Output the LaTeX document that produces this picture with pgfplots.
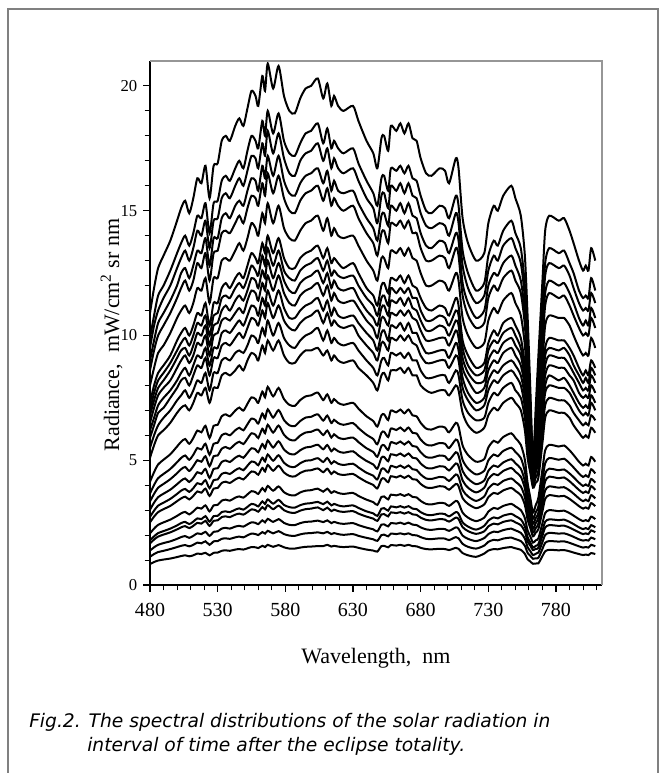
\documentclass[border=0pt]{standalone}
\usepackage{fontspec}
\setmainfont{Liberation Serif}
\newfontfamily\capfont{DejaVu Sans}
\usepackage{pgfplots}
\pgfplotsset{compat=1.18}
\usepackage{pgfplotstable}
\definecolor{framegray}{RGB}{128,128,128}
\definecolor{boxgray}{RGB}{150,150,150}

\pgfplotstableread{
lam U1 U2 U3 U4 U5 U6 U7 U8 U9 U10 U11 U12 U13 U14 L1 L2 L3 L4 L5 L6 L7 L8 L9 L10 L11 L12
480 10.9 9.9 9.5 9.0 8.6 8.0 7.3 7.0 6.8 6.5 6.2 5.9 5.5 5.1 4.14 3.67 3.35 3.02 2.73 2.51 2.07 1.79 1.67 1.38 1.13 0.84
483 11.9 10.8 10.4 9.8 9.4 8.7 8.0 7.7 7.4 7.1 6.7 6.4 6.0 5.6 4.52 4.01 3.65 3.30 2.98 2.74 2.26 1.95 1.82 1.51 1.24 0.92
486 12.7 11.6 11.0 10.5 10.0 9.3 8.5 8.2 7.9 7.6 7.2 6.9 6.4 6.0 4.83 4.28 3.90 3.52 3.18 2.92 2.41 2.08 1.94 1.61 1.32 0.98
490 13.2 12.0 11.5 10.9 10.4 9.6 8.8 8.5 8.2 7.9 7.5 7.1 6.7 6.2 5.02 4.45 4.05 3.66 3.30 3.04 2.51 2.16 2.02 1.68 1.37 1.02
495 13.8 12.6 12.0 11.4 10.9 10.1 9.2 8.9 8.6 8.2 7.8 7.5 7.0 6.5 5.24 4.65 4.24 3.82 3.45 3.17 2.62 2.26 2.11 1.75 1.44 1.06
500 14.6 13.3 12.7 12.0 11.5 10.7 9.8 9.4 9.1 8.7 8.2 7.9 7.4 6.9 5.55 4.92 4.48 4.04 3.65 3.36 2.77 2.39 2.23 1.85 1.52 1.12
503 15.1 13.7 13.1 12.5 11.9 11.0 10.1 9.7 9.4 9.0 8.5 8.2 7.6 7.1 5.74 5.09 4.64 4.18 3.78 3.47 2.87 2.48 2.31 1.92 1.57 1.16
506 15.4 14.0 13.4 12.7 12.2 11.2 10.3 9.9 9.5 9.2 8.7 8.3 7.8 7.2 5.85 5.19 4.73 4.27 3.85 3.54 2.93 2.53 2.36 1.96 1.60 1.19
509 14.9 13.6 13.0 12.3 11.8 10.9 10.0 9.6 9.2 8.9 8.4 8.0 7.5 7.0 5.66 5.02 4.57 4.13 3.73 3.43 2.83 2.44 2.28 1.89 1.55 1.15
512 15.5 14.1 13.5 12.8 12.2 11.3 10.4 10.0 9.6 9.2 8.8 8.4 7.8 7.3 5.89 5.22 4.76 4.29 3.88 3.57 2.95 2.54 2.37 1.97 1.61 1.19
515 16.3 14.8 14.2 13.4 12.9 11.9 10.9 10.5 10.1 9.7 9.2 8.8 8.2 7.7 6.19 5.49 5.00 4.52 4.08 3.75 3.10 2.67 2.49 2.07 1.70 1.26
518 16.1 14.7 14.0 13.3 12.7 11.8 10.8 10.4 10.0 9.6 9.1 8.7 8.1 7.6 6.12 5.43 4.94 4.46 4.03 3.70 3.06 2.64 2.46 2.04 1.67 1.24
521 16.8 15.3 14.6 13.9 13.3 12.3 11.3 10.8 10.4 10.0 9.5 9.1 8.5 7.9 6.38 5.66 5.16 4.65 4.20 3.86 3.19 2.76 2.57 2.13 1.75 1.29
524 15.5 14.1 13.5 12.8 12.2 11.3 10.4 10.0 9.6 9.2 8.8 8.4 7.8 7.3 5.89 5.22 4.76 4.29 3.88 3.57 2.95 2.54 2.37 1.97 1.61 1.19
527 16.8 15.3 14.6 13.9 13.3 12.3 11.3 10.8 10.4 10.0 9.5 9.1 8.5 7.9 6.38 5.66 5.16 4.65 4.20 3.86 3.19 2.76 2.57 2.13 1.75 1.29
530 16.9 15.4 14.7 13.9 13.4 12.3 11.3 10.9 10.5 10.1 9.5 9.1 8.5 7.9 6.42 5.70 5.19 4.68 4.23 3.89 3.21 2.77 2.59 2.15 1.76 1.30
533 17.8 16.2 15.5 14.7 14.1 13.0 11.9 11.5 11.0 10.6 10.1 9.6 9.0 8.4 6.76 6.00 5.46 4.93 4.45 4.09 3.38 2.92 2.72 2.26 1.85 1.37
536 18.0 16.4 15.7 14.9 14.2 13.1 12.1 11.6 11.2 10.7 10.2 9.7 9.1 8.5 6.84 6.07 5.53 4.99 4.50 4.14 3.42 2.95 2.75 2.29 1.87 1.39
539 17.8 16.2 15.5 14.7 14.1 13.0 11.9 11.5 11.0 10.6 10.1 9.6 9.0 8.4 6.76 6.00 5.46 4.93 4.45 4.09 3.38 2.92 2.72 2.26 1.85 1.37
543 18.4 16.7 16.0 15.2 14.5 13.4 12.3 11.9 11.4 10.9 10.4 9.9 9.3 8.6 6.99 6.20 5.65 5.10 4.60 4.23 3.50 3.02 2.82 2.34 1.91 1.42
546 18.7 17.0 16.3 15.4 14.8 13.7 12.5 12.1 11.6 11.1 10.6 10.1 9.4 8.8 7.11 6.30 5.74 5.18 4.68 4.30 3.55 3.07 2.86 2.37 1.94 1.44
549 18.4 16.7 16.0 15.2 14.5 13.4 12.3 11.9 11.4 10.9 10.4 9.9 9.3 8.6 6.99 6.20 5.65 5.10 4.60 4.23 3.50 3.02 2.82 2.34 1.91 1.42
552 19.1 17.4 16.6 15.8 15.1 13.9 12.8 12.3 11.8 11.4 10.8 10.3 9.6 9.0 7.26 6.44 5.86 5.29 4.78 4.39 3.63 3.13 2.92 2.43 1.99 1.47
555 19.8 18.0 17.2 16.3 15.6 14.5 13.3 12.8 12.3 11.8 11.2 10.7 10.0 9.3 7.52 6.67 6.08 5.48 4.95 4.55 3.76 3.25 3.03 2.51 2.06 1.52
558 19.6 17.8 17.1 16.2 15.5 14.3 13.1 12.6 12.2 11.7 11.1 10.6 9.9 9.2 7.45 6.61 6.02 5.43 4.90 4.51 3.72 3.21 3.00 2.49 2.04 1.51
560 19.2 17.5 16.7 15.8 15.2 14.0 12.9 12.4 11.9 11.4 10.8 10.4 9.7 9.0 7.30 6.47 5.89 5.32 4.80 4.42 3.65 3.15 2.94 2.44 2.00 1.48
563 20.4 18.6 17.7 16.8 16.1 14.9 13.7 13.2 12.6 12.1 11.5 11.0 10.3 9.6 7.75 6.87 6.26 5.65 5.10 4.69 3.88 3.35 3.12 2.59 2.12 1.57
565 19.8 18.0 17.2 16.3 15.6 14.5 13.3 12.8 12.3 11.8 11.2 10.7 10.0 9.3 7.52 6.67 6.08 5.48 4.95 4.55 3.76 3.25 3.03 2.51 2.06 1.52
567 20.9 19.0 18.2 17.2 16.5 15.3 14.0 13.5 13.0 12.4 11.8 11.3 10.6 9.8 7.94 7.04 6.42 5.79 5.23 4.81 3.97 3.43 3.20 2.65 2.17 1.61
571 19.9 18.1 17.3 16.4 15.7 14.5 13.3 12.8 12.3 11.8 11.2 10.7 10.0 9.4 7.56 6.71 6.11 5.51 4.98 4.58 3.78 3.26 3.04 2.53 2.07 1.53
575 20.8 18.9 18.1 17.2 16.4 15.2 13.9 13.4 12.9 12.4 11.8 11.2 10.5 9.8 7.90 7.01 6.39 5.76 5.20 4.78 3.95 3.41 3.18 2.64 2.16 1.60
579 19.6 17.8 17.1 16.2 15.5 14.3 13.1 12.6 12.2 11.7 11.1 10.6 9.9 9.2 7.45 6.61 6.02 5.43 4.90 4.51 3.72 3.21 3.00 2.49 2.04 1.51
583 19.0 17.3 16.5 15.7 15.0 13.9 12.7 12.3 11.8 11.3 10.7 10.3 9.6 8.9 7.22 6.40 5.83 5.26 4.75 4.37 3.61 3.12 2.91 2.41 1.98 1.46
587 18.9 17.2 16.4 15.6 14.9 13.8 12.7 12.2 11.7 11.2 10.7 10.2 9.5 8.9 7.18 6.37 5.80 5.24 4.73 4.35 3.59 3.10 2.89 2.40 1.97 1.46
591 19.5 17.7 17.0 16.1 15.4 14.2 13.1 12.6 12.1 11.6 11.0 10.5 9.8 9.2 7.41 6.57 5.99 5.40 4.88 4.49 3.71 3.20 2.98 2.48 2.03 1.50
595 19.9 18.1 17.3 16.4 15.7 14.5 13.3 12.8 12.3 11.8 11.2 10.7 10.0 9.4 7.56 6.71 6.11 5.51 4.98 4.58 3.78 3.26 3.04 2.53 2.07 1.53
599 20.0 18.2 17.4 16.5 15.8 14.6 13.4 12.9 12.4 11.9 11.3 10.8 10.1 9.4 7.60 6.74 6.14 5.54 5.00 4.60 3.80 3.28 3.06 2.54 2.08 1.54
604 20.3 18.5 17.7 16.7 16.0 14.8 13.6 13.1 12.6 12.1 11.5 11.0 10.3 9.5 7.71 6.84 6.23 5.62 5.08 4.67 3.86 3.33 3.11 2.58 2.11 1.56
608 19.5 17.7 17.0 16.1 15.4 14.2 13.1 12.6 12.1 11.6 11.0 10.5 9.8 9.2 7.41 6.59 6.01 5.44 4.93 4.52 3.74 3.24 3.00 2.52 2.07 1.56
611 20.1 18.3 17.5 16.6 15.9 14.7 13.5 13.0 12.5 12.0 11.4 10.9 10.2 9.4 7.64 6.79 6.19 5.61 5.09 4.66 3.86 3.34 3.10 2.59 2.13 1.61
614 19.2 17.5 16.7 15.8 15.2 14.0 12.9 12.4 11.9 11.4 10.8 10.4 9.7 9.0 7.30 6.49 5.91 5.36 4.86 4.45 3.69 3.19 2.96 2.48 2.04 1.54
616 19.6 17.8 17.1 16.2 15.5 14.3 13.1 12.6 12.2 11.7 11.1 10.6 9.9 9.2 7.45 6.62 6.04 5.47 4.96 4.55 3.76 3.25 3.02 2.53 2.08 1.57
619 19.2 17.5 16.7 15.8 15.2 14.0 12.9 12.4 11.9 11.4 10.8 10.4 9.7 9.0 7.30 6.49 5.91 5.36 4.86 4.45 3.69 3.19 2.96 2.48 2.04 1.54
623 19.0 17.3 16.5 15.7 15.0 13.9 12.7 12.3 11.8 11.3 10.7 10.3 9.6 8.9 7.22 6.42 5.85 5.30 4.81 4.41 3.65 3.15 2.93 2.45 2.01 1.52
630 19.2 17.5 16.7 15.8 15.2 14.0 12.9 12.4 11.9 11.4 10.8 10.4 9.7 9.0 7.30 6.49 5.91 5.36 4.86 4.45 3.69 3.19 2.96 2.48 2.04 1.54
634 18.6 16.9 16.2 15.3 14.7 13.6 12.5 12.0 11.5 11.1 10.5 10.0 9.4 8.7 7.07 6.29 5.73 5.19 4.71 4.32 3.57 3.09 2.86 2.40 1.97 1.49
640 17.8 16.2 15.5 14.7 14.1 13.0 11.9 11.5 11.0 10.6 10.1 9.6 9.0 8.4 6.76 6.02 5.48 4.97 4.50 4.13 3.42 2.95 2.74 2.30 1.89 1.42
645 17.3 15.7 15.1 14.3 13.7 12.6 11.6 11.2 10.7 10.3 9.8 9.3 8.7 8.1 6.57 5.85 5.33 4.83 4.38 4.01 3.32 2.87 2.66 2.23 1.83 1.38
648 16.7 15.2 14.5 13.8 13.2 12.2 11.2 10.8 10.4 9.9 9.4 9.0 8.4 7.8 6.35 5.64 5.14 4.66 4.23 3.87 3.21 2.77 2.57 2.15 1.77 1.34
651 17.9 16.3 15.6 14.8 14.1 13.1 12.0 11.5 11.1 10.7 10.1 9.7 9.0 8.4 6.80 6.10 5.57 5.10 4.64 4.24 3.53 3.06 2.83 2.42 2.00 1.56
653 18.0 16.4 15.7 14.9 14.2 13.1 12.1 11.6 11.2 10.7 10.2 9.7 9.1 8.5 6.84 6.14 5.60 5.13 4.66 4.27 3.55 3.08 2.84 2.43 2.02 1.57
656 17.4 15.8 15.1 14.4 13.7 12.7 11.7 11.2 10.8 10.4 9.8 9.4 8.8 8.2 6.61 5.93 5.41 4.96 4.51 4.12 3.43 2.98 2.75 2.35 1.95 1.51
658 18.4 16.7 16.0 15.2 14.5 13.4 12.3 11.9 11.4 10.9 10.4 9.9 9.3 8.6 6.99 6.27 5.72 5.24 4.77 4.36 3.62 3.15 2.91 2.48 2.06 1.60
662 18.2 16.6 15.8 15.0 14.4 13.3 12.2 11.7 11.3 10.8 10.3 9.8 9.2 8.6 6.92 6.21 5.66 5.19 4.71 4.31 3.59 3.11 2.88 2.46 2.04 1.58
665 18.5 16.8 16.1 15.3 14.6 13.5 12.4 11.9 11.5 11.0 10.5 10.0 9.3 8.7 7.03 6.31 5.75 5.27 4.79 4.38 3.64 3.16 2.92 2.50 2.07 1.61
668 18.1 16.5 15.7 14.9 14.3 13.2 12.1 11.7 11.2 10.8 10.2 9.8 9.1 8.5 6.88 6.17 5.63 5.16 4.69 4.29 3.57 3.10 2.86 2.44 2.03 1.57
671 18.5 16.8 16.1 15.3 14.6 13.5 12.4 11.9 11.5 11.0 10.5 10.0 9.3 8.7 7.03 6.31 5.75 5.27 4.79 4.38 3.64 3.16 2.92 2.50 2.07 1.61
674 17.9 16.3 15.6 14.8 14.1 13.1 12.0 11.5 11.1 10.7 10.1 9.7 9.0 8.4 6.80 6.10 5.57 5.10 4.64 4.24 3.53 3.06 2.83 2.42 2.00 1.56
677 17.8 16.2 15.5 14.7 14.1 13.0 11.9 11.5 11.0 10.6 10.1 9.6 9.0 8.4 6.76 6.07 5.54 5.07 4.61 4.22 3.51 3.04 2.81 2.40 1.99 1.55
680 17.1 15.6 14.9 14.1 13.5 12.5 11.5 11.0 10.6 10.2 9.7 9.2 8.6 8.0 6.50 5.83 5.32 4.87 4.43 4.05 3.37 2.92 2.70 2.31 1.92 1.49
684 16.5 15.0 14.4 13.6 13.0 12.0 11.1 10.6 10.2 9.8 9.3 8.9 8.3 7.8 6.27 5.63 5.13 4.70 4.27 3.91 3.25 2.82 2.61 2.23 1.85 1.44
688 16.4 14.9 14.3 13.5 13.0 12.0 11.0 10.6 10.2 9.8 9.3 8.9 8.3 7.7 6.23 5.59 5.10 4.67 4.25 3.89 3.23 2.80 2.59 2.21 1.84 1.43
694 16.7 15.2 14.5 13.8 13.2 12.2 11.2 10.8 10.4 9.9 9.4 9.0 8.4 7.8 6.35 5.69 5.19 4.76 4.33 3.96 3.29 2.86 2.64 2.25 1.87 1.45
698 16.6 15.1 14.4 13.7 13.1 12.1 11.1 10.7 10.3 9.9 9.4 9.0 8.4 7.8 6.31 5.66 5.16 4.73 4.30 3.93 3.27 2.84 2.62 2.24 1.86 1.44
701 16.1 14.7 14.0 13.3 12.7 11.8 10.8 10.4 10.0 9.6 9.1 8.7 8.1 7.6 6.12 5.49 5.01 4.59 4.17 3.82 3.17 2.75 2.54 2.17 1.80 1.40
706 17.1 15.6 14.9 14.1 13.5 12.5 11.5 11.0 10.6 10.2 9.7 9.2 8.6 8.0 6.50 5.83 5.32 4.87 4.43 4.05 3.37 2.92 2.70 2.31 1.92 1.49
708 16.7 15.2 14.5 13.8 13.2 12.2 11.2 10.8 10.4 9.9 9.4 9.0 8.4 7.8 6.35 5.69 5.19 4.76 4.33 3.96 3.29 2.86 2.64 2.25 1.87 1.45
711 14.7 13.4 12.8 12.1 11.6 10.7 9.8 9.5 9.1 8.7 8.3 7.9 7.4 6.9 5.59 5.01 4.57 4.19 3.81 3.48 2.90 2.51 2.32 1.98 1.65 1.28
715 13.7 12.5 11.9 11.3 10.8 10.0 9.2 8.8 8.5 8.2 7.7 7.4 6.9 6.4 5.21 4.67 4.26 3.90 3.55 3.25 2.70 2.34 2.16 1.85 1.53 1.19
721 13.0 11.8 11.3 10.7 10.3 9.5 8.7 8.4 8.1 7.7 7.3 7.0 6.6 6.1 4.94 4.43 4.04 3.71 3.37 3.08 2.56 2.22 2.05 1.76 1.46 1.13
727 13.3 12.1 11.6 11.0 10.5 9.7 8.9 8.6 8.2 7.9 7.5 7.2 6.7 6.3 5.05 4.58 4.19 3.90 3.55 3.23 2.70 2.37 2.15 1.88 1.58 1.26
730 14.5 13.2 12.6 12.0 11.5 10.6 9.7 9.4 9.0 8.6 8.2 7.8 7.3 6.8 5.51 4.99 4.57 4.25 3.87 3.52 2.94 2.58 2.35 2.04 1.73 1.38
734 15.2 13.8 13.2 12.5 12.0 11.1 10.2 9.8 9.4 9.0 8.6 8.2 7.7 7.1 5.78 5.23 4.79 4.45 4.06 3.69 3.09 2.71 2.46 2.14 1.81 1.44
737 15.0 13.6 13.0 12.4 11.8 10.9 10.0 9.7 9.3 8.9 8.5 8.1 7.6 7.0 5.70 5.16 4.73 4.40 4.01 3.65 3.05 2.67 2.43 2.12 1.79 1.43
741 15.6 14.2 13.6 12.9 12.3 11.4 10.5 10.1 9.7 9.3 8.8 8.4 7.9 7.3 5.93 5.37 4.91 4.57 4.17 3.79 3.17 2.78 2.53 2.20 1.86 1.48
747 16.0 14.6 13.9 13.2 12.6 11.7 10.7 10.3 9.9 9.5 9.0 8.6 8.1 7.5 6.08 5.50 5.04 4.69 4.27 3.89 3.25 2.85 2.59 2.26 1.90 1.52
750 15.5 14.1 13.5 12.8 12.2 11.3 10.4 10.0 9.6 9.2 8.8 8.4 7.8 7.3 5.89 5.33 4.88 4.54 4.14 3.77 3.15 2.76 2.51 2.19 1.84 1.47
754 14.8 13.5 12.9 12.2 11.7 10.8 9.9 9.5 9.2 8.8 8.4 8.0 7.5 7.0 5.62 5.09 4.66 4.34 3.95 3.60 3.00 2.63 2.40 2.09 1.76 1.41
757 13.2 12.0 11.5 10.9 10.4 9.6 8.8 8.5 8.2 7.9 7.5 7.1 6.7 6.2 5.02 4.54 4.16 3.87 3.52 3.21 2.68 2.35 2.14 1.86 1.57 1.25
759 10.8 9.8 9.4 8.9 8.5 7.9 7.2 7.0 6.7 6.4 6.1 5.8 5.5 5.1 4.10 3.72 3.40 3.16 2.88 2.62 2.19 1.92 1.75 1.52 1.29 1.03
761 7.9 7.4 7.1 6.8 6.6 6.2 5.8 5.7 5.5 5.3 5.1 4.9 4.7 4.5 3.50 3.19 2.93 2.71 2.49 2.29 1.95 1.71 1.58 1.36 1.17 0.94
763 5.0 4.9 4.8 4.75 4.7 4.6 4.5 4.45 4.4 4.3 4.2 4.1 4.0 3.9 2.90 2.65 2.45 2.25 2.10 1.95 1.70 1.50 1.40 1.20 1.05 0.85
765 7.1 6.6 6.4 6.2 6.0 5.6 5.3 5.2 5.0 4.9 4.7 4.5 4.3 4.1 3.20 2.91 2.68 2.48 2.28 2.10 1.79 1.57 1.45 1.25 1.07 0.86
767 9.2 8.4 8.0 7.6 7.3 6.7 6.2 5.9 5.7 5.5 5.2 5.0 4.6 4.3 3.50 3.16 2.90 2.70 2.46 2.24 1.87 1.64 1.49 1.30 1.09 0.87
770 12.2 11.1 10.6 10.1 9.6 8.9 8.2 7.9 7.6 7.3 6.9 6.6 6.2 5.7 4.64 4.20 3.84 3.57 3.26 2.96 2.48 2.17 1.98 1.72 1.45 1.16
772 14.2 12.9 12.4 11.7 11.2 10.4 9.5 9.2 8.8 8.4 8.0 7.7 7.2 6.7 5.40 4.88 4.47 4.16 3.79 3.45 2.88 2.53 2.30 2.00 1.69 1.35
775 14.8 13.5 12.9 12.2 11.7 10.8 9.9 9.5 9.2 8.8 8.4 8.0 7.5 7.0 5.62 5.09 4.66 4.34 3.95 3.60 3.00 2.63 2.40 2.09 1.76 1.41
782 14.6 13.3 12.7 12.0 11.5 10.7 9.8 9.4 9.1 8.7 8.2 7.9 7.4 6.9 5.55 5.02 4.60 4.28 3.90 3.55 2.96 2.60 2.37 2.06 1.74 1.39
786 14.7 13.4 12.8 12.1 11.6 10.7 9.8 9.5 9.1 8.7 8.3 7.9 7.4 6.9 5.59 5.06 4.63 4.31 3.92 3.57 2.98 2.62 2.38 2.07 1.75 1.40
790 14.2 12.9 12.4 11.7 11.2 10.4 9.5 9.2 8.8 8.4 8.0 7.7 7.2 6.7 5.40 4.88 4.47 4.16 3.79 3.45 2.88 2.53 2.30 2.00 1.69 1.35
793 13.7 12.5 11.9 11.3 10.8 10.0 9.2 8.8 8.5 8.2 7.7 7.4 6.9 6.4 5.21 4.71 4.32 4.01 3.66 3.33 2.78 2.44 2.22 1.93 1.63 1.30
797 13.0 11.8 11.3 10.7 10.3 9.5 8.7 8.4 8.1 7.7 7.3 7.0 6.6 6.1 4.94 4.47 4.10 3.81 3.47 3.16 2.64 2.31 2.11 1.83 1.55 1.24
800 12.6 11.5 11.0 10.4 10.0 9.2 8.4 8.1 7.8 7.5 7.1 6.8 6.4 5.9 4.79 4.33 3.97 3.69 3.36 3.06 2.56 2.24 2.04 1.78 1.50 1.20
802 12.8 11.6 11.1 10.6 10.1 9.3 8.6 8.3 7.9 7.6 7.2 6.9 6.5 6.0 4.86 4.40 4.03 3.75 3.42 3.11 2.60 2.28 2.07 1.80 1.52 1.22
804 12.6 11.5 11.0 10.4 10.0 9.2 8.4 8.1 7.8 7.5 7.1 6.8 6.4 5.9 4.79 4.33 3.97 3.69 3.36 3.06 2.56 2.24 2.04 1.78 1.50 1.20
806 13.5 12.3 11.7 11.1 10.7 9.9 9.0 8.7 8.4 8.0 7.6 7.3 6.8 6.3 5.13 4.64 4.25 3.96 3.60 3.28 2.74 2.40 2.19 1.90 1.61 1.28
809 13.0 11.8 11.3 10.7 10.3 9.5 8.7 8.4 8.1 7.7 7.3 7.0 6.6 6.1 4.94 4.47 4.10 3.81 3.47 3.16 2.64 2.31 2.11 1.83 1.55 1.24
}\spectra

\begin{document}
\begin{tikzpicture}
\useasboundingbox (-112.5pt,-141pt) rectangle (387pt,438.75pt);
\fill[white] (-112.5pt,-141pt) rectangle (387pt,438.75pt);
\draw[framegray, line width=1.5pt] (-106.5pt,-142pt) -- (-106.5pt,432pt) -- (381pt,432pt) -- (381pt,-142pt);
\begin{axis}[
  name=ax,
  at={(0pt,0pt)}, anchor=south west,
  scale only axis, width=339pt, height=393pt,
  xmin=480, xmax=814, ymin=0, ymax=21,
  axis x line*=bottom, axis y line*=left,
  axis line style={-, black, line width=0.9pt},
  xtick={480,530,580,630,680,730,780},
  minor xtick={490,500,510,520,540,550,560,570,590,600,610,620,640,650,660,670,690,700,710,720,740,750,760,770,790,800,810},
  ytick={0,5,10,15,20},
  minor ytick={1,2,3,4,6,7,8,9,11,12,13,14,16,17,18,19},
  tick align=outside,
  major tick length=5pt, minor tick length=4pt,
  tick style={black, line width=0.8pt},
  /pgf/number format/assume math mode=true,
  xticklabel style={font=\fontsize{15}{17}\selectfont, yshift=-5pt},
  yticklabel style={font=\fontsize{12.5}{14}\selectfont, xshift=-1pt},
  xlabel={Wavelength,\ \ nm},
  ylabel={Radiance,\ \ mW/cm\textsuperscript{2} sr nm},
  label style={font=\fontsize{16.5}{19}\selectfont},
  xlabel style={at={(axis description cs:0.5,-0.139)}, anchor=center},
  ylabel style={at={(axis description cs:-0.085,0.477)}, anchor=center},
  cycle list={{black}},
  every axis plot/.append style={black, line width=1.5pt, smooth, tension=0.45, no markers},
]
\pgfplotsinvokeforeach{U1,U2,U3,U4,U5,U6,U7,U8,U9,U10,U11,U12,U13,U14,L1,L2,L3,L4,L5,L6,L7,L8,L9,L10,L11,L12}{
  \addplot table[x=lam, y=#1] {\spectra};
}
\end{axis}
\draw[boxgray, line width=1.5pt] (ax.north west) -- (ax.north east) -- (ax.south east);
\node[anchor=west, inner sep=0pt, font=\capfont\itshape\fontsize{14}{16}\selectfont] at (-90.75pt,-102.75pt) {Fig.2. The spectral distributions of the solar radiation in};
\node[anchor=west, inner sep=0pt, font=\capfont\itshape\fontsize{14}{16}\selectfont] at (-47.25pt,-120.75pt) {interval of time after the eclipse totality.};
\end{tikzpicture}
\end{document}
